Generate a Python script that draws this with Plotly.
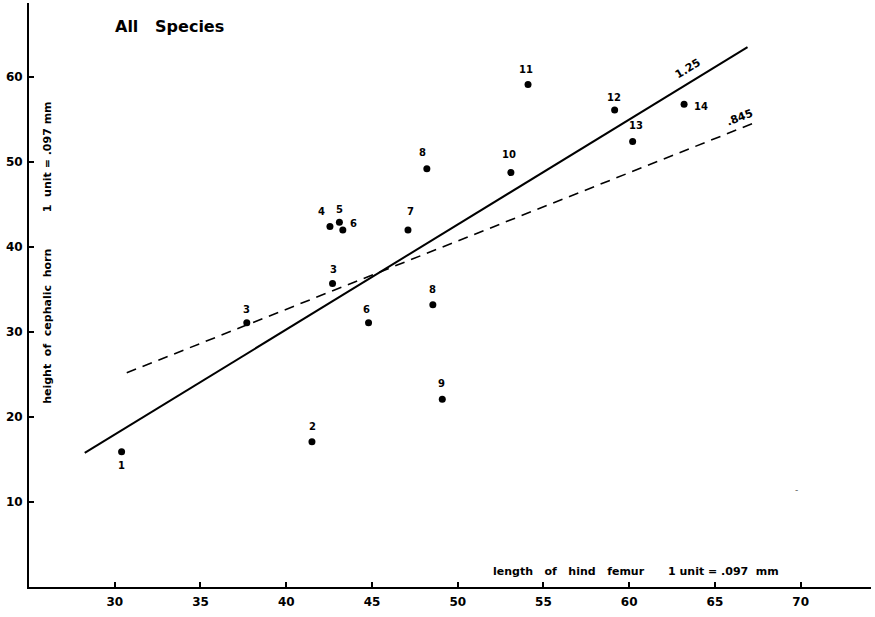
import plotly.graph_objects as go

# ---- data ----
femur_length = [30.4, 41.5, 37.7, 42.7, 42.55, 43.1, 43.3, 47.1, 48.2, 44.8, 48.55, 49.1, 53.1, 54.1, 59.15, 60.2, 63.2]
horn_height = [15.9, 17.1, 31.1, 35.7, 42.4, 42.9, 42.0, 42.0, 49.2, 31.1, 33.2, 22.1, 48.75, 59.1, 56.1, 52.4, 56.8]
species_labels = ["1", "2", "3", "3", "4", "5", "6", "7", "8", "6", "8", "9", "10", "11", "12", "13", "14"]

line_125_x = [28.25, 66.9]
line_125_y = [15.77, 63.52]
line_845_x = [30.7, 67.3]
line_845_y = [25.2, 54.6]

x_ticks = [30, 35, 40, 45, 50, 55, 60, 65, 70]
y_ticks = [10, 20, 30, 40, 50, 60]

# ---- label placement (style) ----
label_shift = [(0, -14), (1, 15), (0, 13), (1, 14), (-8, 15), (0, 13), (11, 6), (3, 18), (-4, 16),
               (-2, 13), (0, 15), (-1, 16), (-2, 18), (-2, 15), (-1, 13), (3, 16), (17, -2)]

FONT = "DejaVu Sans"


def bold(size, color="black"):
    return dict(family=FONT, size=size, color=color, weight="bold")


fig = go.Figure()
fig.add_trace(go.Scatter(x=line_125_x, y=line_125_y, mode="lines",
                         line=dict(color="black", width=2), hoverinfo="skip"))
fig.add_trace(go.Scatter(x=line_845_x, y=line_845_y, mode="lines",
                         line=dict(color="black", width=1.6, dash="10px,7px"), hoverinfo="skip"))
fig.add_trace(go.Scatter(x=femur_length, y=horn_height, mode="markers",
                         marker=dict(color="black", size=7)))

for xv, yv, lab, (dx, dy) in zip(femur_length, horn_height, species_labels, label_shift):
    fig.add_annotation(x=xv, y=yv, text=lab, showarrow=False, xshift=dx, yshift=dy,
                       xanchor="center", yanchor="middle", font=bold(10))

# slope labels
fig.add_annotation(x=63.42, y=61.05, text="1.25", showarrow=False, textangle=-31.5,
                   xanchor="center", yanchor="middle", font=bold(11))
fig.add_annotation(x=66.44, y=55.28, text=".845", showarrow=False, textangle=-21,
                   xanchor="center", yanchor="middle", font=bold(11))

# title
fig.add_annotation(xref="paper", yref="paper", x=0.0994, y=0.959, xanchor="left", yanchor="middle",
                   text="All   Species", showarrow=False, font=bold(16))

# y-axis titles (inside plot)
fig.add_annotation(xref="paper", yref="paper", x=0.0221, y=0.4465, textangle=-90,
                   xanchor="center", yanchor="middle",
                   text="height  of  cephalic  horn", showarrow=False, font=bold(11))
fig.add_annotation(xref="paper", yref="paper", x=0.0221, y=0.737, textangle=-90,
                   xanchor="center", yanchor="middle",
                   text="1  unit = .097 mm", showarrow=False, font=bold(11))

# x-axis titles (inside plot)
fig.add_annotation(xref="paper", yref="paper", x=0.6416, y=0.0272,
                   xanchor="center", yanchor="middle",
                   text="length   of   hind   femur", showarrow=False, font=bold(11))
fig.add_annotation(xref="paper", yref="paper", x=0.8244, y=0.0272,
                   xanchor="center", yanchor="middle",
                   text="1 unit = .097  mm", showarrow=False, font=bold(11))

# small stray mark in the scan
fig.add_annotation(x=69.73, y=11.46, text="-", showarrow=False,
                   font=dict(family=FONT, size=9, color="#555555"))

axis_common = dict(showgrid=False, zeroline=False, showline=True, linecolor="black", linewidth=2,
                   ticks="inside", ticklen=5, tickwidth=1.5, tickcolor="black",
                   tickfont=bold(12))

fig.update_layout(
    width=875, height=617,
    margin=dict(l=29, r=4, t=3, b=30),
    paper_bgcolor="white", plot_bgcolor="white",
    showlegend=False,
    xaxis=dict(range=[25, 74.1], tickvals=x_ticks, ticklabelstandoff=3, **axis_common),
    yaxis=dict(range=[0, 68.7], tickvals=y_ticks, ticklabelstandoff=2, **axis_common),
)

fig.write_html("out.html", config={"displayModeBar": False},
               post_script="document.body.style.margin='0px';document.body.style.padding='0px';")
